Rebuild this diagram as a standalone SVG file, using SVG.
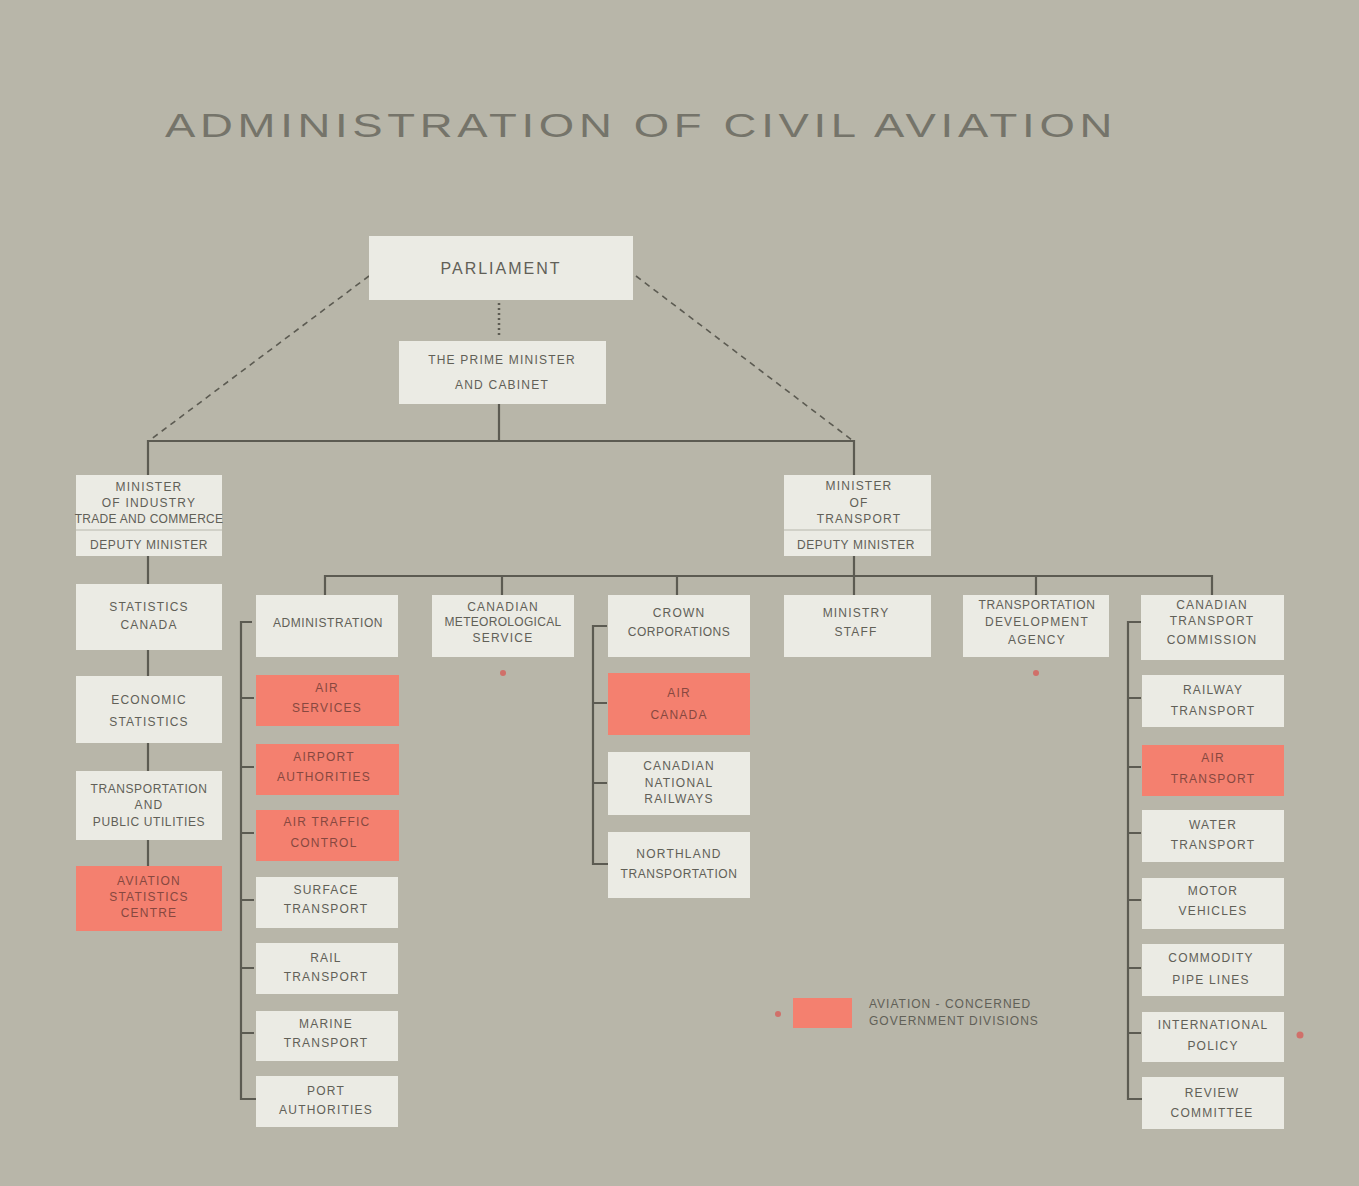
<svg xmlns="http://www.w3.org/2000/svg" width="1359" height="1186" viewBox="0 0 1359 1186">
<style>
.bx{fill:#ebebe4}
.rd{fill:#f4806f}
text{font-family:"Liberation Sans",Arial,sans-serif;font-size:12px;letter-spacing:1.2px;fill:#616057;text-anchor:middle}
.rt{fill:#874840}
.ln{stroke:#5c5b52;stroke-width:2.2;fill:none}
.dash{stroke:#5c5b52;stroke-width:1.6;stroke-dasharray:6 5;fill:none}
.mk{fill:#d0706a}
</style>
<rect x="0" y="0" width="1359" height="1186" fill="#b8b6a9"/>
<text x="641" y="137" style="font-size:34px;letter-spacing:3.5px;fill:#75746a" textLength="952" lengthAdjust="spacingAndGlyphs">ADMINISTRATION  OF  CIVIL  AVIATION</text>

<g id="connectors">
<path class="dash" d="M369 276 L150 440"/>
<path class="dash" d="M636 276 L852 440"/>
<path d="M499 303 V337" stroke="#5c5b52" stroke-width="2.5" stroke-dasharray="2 3" fill="none"/>
<path class="ln" d="M499 404 V441 M148 475 V441 H854 V475"/>
<path class="ln" d="M148 556 V584 M148 650 V676 M148 743 V771 M148 840 V866"/>
<path class="ln" d="M854 556 V576 M325 595 V576 H1212 V595 M502 576 V595 M677 576 V595 M854 576 V595 M1036 576 V595"/>
<path class="ln" d="M252 622 H241 V1099 H256 M241 698 H254 M241 767 H254 M241 833 H254 M241 900 H254 M241 968 H254 M241 1033 H254"/>
<path class="ln" d="M607 626 H593 V864 H608 M593 703 H607 M593 783 H607"/>
<path class="ln" d="M1141 622 H1128 V1099 H1142 M1128 698 H1141 M1128 767 H1141 M1128 833 H1141 M1128 900 H1141 M1128 968 H1141 M1128 1033 H1141"/>
</g>

<g id="parliament"><rect class="bx" x="369" y="236" width="264" height="64"/><text x="501" y="274" style="font-size:16px;letter-spacing:2px">PARLIAMENT</text></g>
<g id="pm"><rect class="bx" x="399" y="341" width="207" height="63"/><text x="502" y="364">THE PRIME MINISTER</text><text x="502" y="389">AND CABINET</text></g>

<g id="min-industry"><rect class="bx" x="76" y="475" width="146" height="81"/><line x1="76" y1="530" x2="222" y2="530" stroke="#c9c8bf" stroke-width="1.5"/><text x="149" y="491">MINISTER</text><text x="149" y="507">OF INDUSTRY</text><text x="149" y="523" style="letter-spacing:0.3px">TRADE AND COMMERCE</text><text x="149" y="549" style="letter-spacing:0.6px">DEPUTY MINISTER</text></g>
<g id="stats-canada"><rect class="bx" x="76" y="584" width="146" height="66"/><text x="149" y="611">STATISTICS</text><text x="149" y="629">CANADA</text></g>
<g id="economic-stats"><rect class="bx" x="76" y="676" width="146" height="67"/><text x="149" y="704">ECONOMIC</text><text x="149" y="726">STATISTICS</text></g>
<g id="transport-utilities"><rect class="bx" x="76" y="771" width="146" height="69"/><text x="149" y="793" style="letter-spacing:0.6px">TRANSPORTATION</text><text x="149" y="809">AND</text><text x="149" y="826" style="letter-spacing:0.6px">PUBLIC UTILITIES</text></g>
<g id="aviation-stats"><rect class="rd" x="76" y="866" width="146" height="65"/><text class="rt" x="149" y="885">AVIATION</text><text class="rt" x="149" y="901">STATISTICS</text><text class="rt" x="149" y="917">CENTRE</text></g>

<g id="min-transport"><rect class="bx" x="784" y="475" width="147" height="81"/><line x1="784" y1="530" x2="931" y2="530" stroke="#c9c8bf" stroke-width="1.5"/><text x="859" y="490">MINISTER</text><text x="859" y="507">OF</text><text x="859" y="523">TRANSPORT</text><text x="856" y="549" style="letter-spacing:0.6px">DEPUTY MINISTER</text></g>

<g id="administration"><rect class="bx" x="256" y="595" width="142" height="62"/><text x="328" y="627" style="letter-spacing:0.6px">ADMINISTRATION</text></g>
<g id="meteorological"><rect class="bx" x="432" y="595" width="142" height="62"/><text x="503" y="611">CANADIAN</text><text x="503" y="626" style="letter-spacing:0.3px">METEOROLOGICAL</text><text x="503" y="642">SERVICE</text></g>
<g id="crown-corps"><rect class="bx" x="608" y="595" width="142" height="62"/><text x="679" y="617">CROWN</text><text x="679" y="636" style="letter-spacing:0.5px">CORPORATIONS</text></g>
<g id="ministry-staff"><rect class="bx" x="784" y="595" width="147" height="62"/><text x="856" y="617">MINISTRY</text><text x="856" y="636">STAFF</text></g>
<g id="tda"><rect class="bx" x="963" y="595" width="146" height="62"/><text x="1037" y="609" style="letter-spacing:0.6px">TRANSPORTATION</text><text x="1037" y="626">DEVELOPMENT</text><text x="1037" y="644">AGENCY</text></g>
<g id="ctc"><rect class="bx" x="1141" y="595" width="143" height="65"/><text x="1212" y="609">CANADIAN</text><text x="1212" y="625">TRANSPORT</text><text x="1212" y="644">COMMISSION</text></g>

<g id="air-services"><rect class="rd" x="256" y="675" width="143" height="51"/><text class="rt" x="327" y="692">AIR</text><text class="rt" x="327" y="712">SERVICES</text></g>
<g id="airport-authorities"><rect class="rd" x="256" y="744" width="143" height="51"/><text class="rt" x="324" y="761">AIRPORT</text><text class="rt" x="324" y="781">AUTHORITIES</text></g>
<g id="air-traffic"><rect class="rd" x="256" y="810" width="143" height="51"/><text class="rt" x="327" y="826">AIR TRAFFIC</text><text class="rt" x="324" y="847">CONTROL</text></g>
<g id="surface"><rect class="bx" x="256" y="877" width="142" height="51"/><text x="326" y="894">SURFACE</text><text x="326" y="913">TRANSPORT</text></g>
<g id="rail"><rect class="bx" x="256" y="943" width="142" height="51"/><text x="326" y="962">RAIL</text><text x="326" y="981">TRANSPORT</text></g>
<g id="marine"><rect class="bx" x="256" y="1011" width="142" height="50"/><text x="326" y="1028">MARINE</text><text x="326" y="1047">TRANSPORT</text></g>
<g id="port"><rect class="bx" x="256" y="1076" width="142" height="51"/><text x="326" y="1095">PORT</text><text x="326" y="1114">AUTHORITIES</text></g>

<g id="air-canada"><rect class="rd" x="608" y="673" width="142" height="62"/><text class="rt" x="679" y="697">AIR</text><text class="rt" x="679" y="719">CANADA</text></g>
<g id="cnr"><rect class="bx" x="608" y="752" width="142" height="63"/><text x="679" y="770">CANADIAN</text><text x="679" y="787">NATIONAL</text><text x="679" y="803">RAILWAYS</text></g>
<g id="northland"><rect class="bx" x="608" y="832" width="142" height="66"/><text x="679" y="858">NORTHLAND</text><text x="679" y="878" style="letter-spacing:0.6px">TRANSPORTATION</text></g>

<g id="railway-transport"><rect class="bx" x="1142" y="675" width="142" height="52"/><text x="1213" y="694">RAILWAY</text><text x="1213" y="715">TRANSPORT</text></g>
<g id="air-transport"><rect class="rd" x="1142" y="745" width="142" height="51"/><text class="rt" x="1213" y="762">AIR</text><text class="rt" x="1213" y="783">TRANSPORT</text></g>
<g id="water"><rect class="bx" x="1142" y="810" width="142" height="52"/><text x="1213" y="829">WATER</text><text x="1213" y="849">TRANSPORT</text></g>
<g id="motor"><rect class="bx" x="1142" y="878" width="142" height="51"/><text x="1213" y="895">MOTOR</text><text x="1213" y="915">VEHICLES</text></g>
<g id="pipelines"><rect class="bx" x="1142" y="944" width="142" height="52"/><text x="1211" y="962">COMMODITY</text><text x="1211" y="984">PIPE LINES</text></g>
<g id="intl-policy"><rect class="bx" x="1142" y="1012" width="142" height="50"/><text x="1213" y="1029">INTERNATIONAL</text><text x="1213" y="1050">POLICY</text></g>
<g id="review"><rect class="bx" x="1142" y="1077" width="142" height="52"/><text x="1212" y="1097">REVIEW</text><text x="1212" y="1117">COMMITTEE</text></g>

<g id="legend"><circle class="mk" cx="778" cy="1014" r="3"/><rect class="rd" x="793" y="998" width="59" height="30"/><text x="869" y="1008" style="text-anchor:start;letter-spacing:1px">AVIATION - CONCERNED</text><text x="869" y="1025" style="text-anchor:start;letter-spacing:1px">GOVERNMENT DIVISIONS</text></g>
<circle class="mk" cx="503" cy="673" r="3"/>
<circle class="mk" cx="1036" cy="673" r="3"/>
<circle class="mk" cx="1300" cy="1035" r="3.5"/>
</svg>
